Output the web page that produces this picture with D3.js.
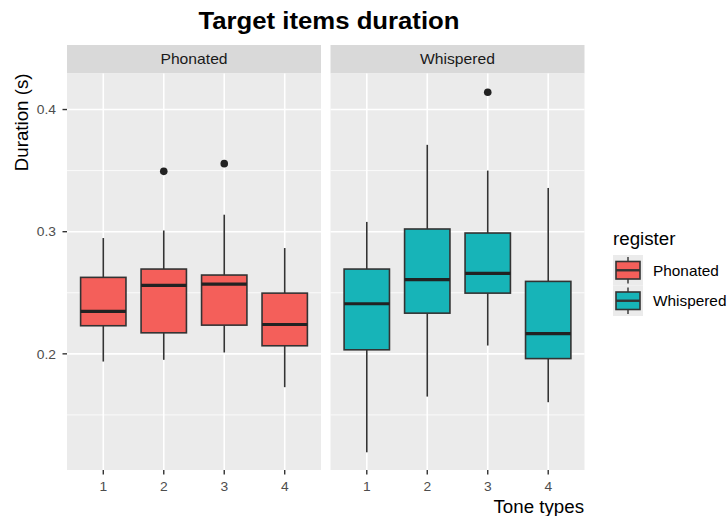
<!DOCTYPE html>
<html>
<head>
<meta charset="utf-8">
<script src="https://cdn.jsdelivr.net/npm/d3@7"></script>
<style>
  body { margin: 0; background: #fff; }
  svg { font-family: "Liberation Sans", Arial, sans-serif; }
</style>
</head>
<body>
<div id="chart"></div>
<script>
const toneTypes = ['1', '2', '3', '4'];
const registers = ['Phonated', 'Whispered'];
const colors = ['#F45F5A', '#17B4B8'];

// [lower whisker, Q1, median, Q3, upper whisker] per tone
const phonatedStats = [
  [0.1937, 0.2230, 0.2347, 0.2626, 0.2948],
  [0.1951, 0.2172, 0.2560, 0.2694, 0.3010],
  [0.2011, 0.2235, 0.2571, 0.2645, 0.3139],
  [0.1727, 0.2066, 0.2240, 0.2497, 0.2866]
];
const whisperedStats = [
  [0.1194, 0.2033, 0.2410, 0.2694, 0.3080],
  [0.1650, 0.2333, 0.2607, 0.3022, 0.3711],
  [0.2068, 0.2497, 0.2658, 0.2989, 0.3500],
  [0.1604, 0.1961, 0.2166, 0.2593, 0.3358]
];
const phonatedOutliers = [[], [0.3494], [0.3557], []];
const whisperedOutliers = [[], [], [0.4142], []];

const yTicks = [0.2, 0.3, 0.4];
const yMinor = [0.15, 0.25, 0.35];

const width = 728, height = 516;
const panels = [
  { name: registers[0], x0: 67, x1: 321, stats: phonatedStats, outliers: phonatedOutliers, color: colors[0] },
  { name: registers[1], x0: 330.5, x1: 584.5, stats: whisperedStats, outliers: whisperedOutliers, color: colors[1] }
];
const stripTop = 45, panelTop = 73.5, panelBottom = 470;

const svg = d3.select('#chart').append('svg')
  .attr('width', width)
  .attr('height', height);

const y = d3.scaleLinear()
  .domain([0.1049, 0.4295])
  .range([panelBottom, panelTop]);

// the reference font renders a little wider than Liberation Sans
const addText = (parent, str, x, yy, size, sx, opts = {}) => {
  const rot = opts.rotate ? ` rotate(${opts.rotate})` : '';
  return parent.append('text')
    .attr('transform', `translate(${x}, ${yy})${rot} scale(${sx}, 1)`)
    .attr('text-anchor', opts.anchor || 'start')
    .attr('font-size', size)
    .attr('font-weight', opts.bold ? 'bold' : 'normal')
    .attr('fill', opts.fill || '#000')
    .text(str);
};

addText(svg, 'Target items duration', 329, 29, 24.5, 1.05, { anchor: 'middle', bold: true });

panels.forEach(p => {
  // discrete scale with 0.6 unit expansion on each side
  const x = d3.scalePoint()
    .domain(toneTypes)
    .range([p.x0, p.x1])
    .padding(0.6);
  const unit = x.step();

  const g = svg.append('g');

  // strip
  g.append('rect')
    .attr('x', p.x0).attr('y', stripTop)
    .attr('width', p.x1 - p.x0).attr('height', panelTop - stripTop)
    .attr('fill', '#D9D9D9');
  addText(g, p.name, (p.x0 + p.x1) / 2, (stripTop + panelTop) / 2 + 5, 14.8, 1.06,
    { anchor: 'middle', fill: '#1A1A1A' });

  // panel background
  g.append('rect')
    .attr('x', p.x0).attr('y', panelTop)
    .attr('width', p.x1 - p.x0).attr('height', panelBottom - panelTop)
    .attr('fill', '#EBEBEB');

  g.selectAll('.minor').data(yMinor).enter().append('line')
    .attr('x1', p.x0).attr('x2', p.x1)
    .attr('y1', d => y(d)).attr('y2', d => y(d))
    .attr('stroke', '#fff').attr('stroke-width', 0.8);
  g.selectAll('.major').data(yTicks).enter().append('line')
    .attr('x1', p.x0).attr('x2', p.x1)
    .attr('y1', d => y(d)).attr('y2', d => y(d))
    .attr('stroke', '#fff').attr('stroke-width', 1.6);
  g.selectAll('.vmajor').data(toneTypes).enter().append('line')
    .attr('x1', d => x(d)).attr('x2', d => x(d))
    .attr('y1', panelTop).attr('y2', panelBottom)
    .attr('stroke', '#fff').attr('stroke-width', 1.6);

  // x axis ticks
  g.selectAll('.xtick').data(toneTypes).enter().append('line')
    .attr('x1', d => x(d)).attr('x2', d => x(d))
    .attr('y1', panelBottom).attr('y2', panelBottom + 4.5)
    .attr('stroke', '#333').attr('stroke-width', 1.4);
  toneTypes.forEach(t => addText(g, t, x(t), panelBottom + 21, 13.3, 1.04, { anchor: 'middle', fill: '#4D4D4D' }));

  const bw = unit * 0.75;
  const boxes = g.selectAll('.box').data(p.stats).enter().append('g');
  boxes.append('line')
    .attr('x1', (d, i) => x(toneTypes[i])).attr('x2', (d, i) => x(toneTypes[i]))
    .attr('y1', d => y(d[0])).attr('y2', d => y(d[1]))
    .attr('stroke', '#333').attr('stroke-width', 1.6);
  boxes.append('line')
    .attr('x1', (d, i) => x(toneTypes[i])).attr('x2', (d, i) => x(toneTypes[i]))
    .attr('y1', d => y(d[3])).attr('y2', d => y(d[4]))
    .attr('stroke', '#333').attr('stroke-width', 1.6);
  boxes.append('rect')
    .attr('x', (d, i) => x(toneTypes[i]) - bw / 2)
    .attr('width', bw)
    .attr('y', d => y(d[3]))
    .attr('height', d => y(d[1]) - y(d[3]))
    .attr('fill', p.color)
    .attr('stroke', '#333').attr('stroke-width', 1.6);
  boxes.append('line')
    .attr('x1', (d, i) => x(toneTypes[i]) - bw / 2).attr('x2', (d, i) => x(toneTypes[i]) + bw / 2)
    .attr('y1', d => y(d[2])).attr('y2', d => y(d[2]))
    .attr('stroke', '#222').attr('stroke-width', 3.2);

  p.outliers.forEach((arr, i) => {
    g.selectAll(null).data(arr).enter().append('circle')
      .attr('cx', x(toneTypes[i]))
      .attr('cy', d => y(d))
      .attr('r', 3.8)
      .attr('fill', '#222');
  });
});

// y axis
const yAxis = svg.append('g');
yAxis.selectAll('line').data(yTicks).enter().append('line')
  .attr('x1', 62.5).attr('x2', 67)
  .attr('y1', d => y(d)).attr('y2', d => y(d))
  .attr('stroke', '#333').attr('stroke-width', 1.4);
yTicks.forEach(t => addText(yAxis, d3.format('.1f')(t), 56, y(t) + 4.8, 13.3, 1.04, { anchor: 'end', fill: '#4D4D4D' }));

addText(svg, 'Duration (s)', 28, panelTop, 17.5, 1.07, { anchor: 'end', rotate: -90 });
addText(svg, 'Tone types', 584, 513, 17.5, 1.07, { anchor: 'end' });

// legend
const legend = svg.append('g');
addText(legend, 'register', 613, 245, 17.5, 1.07);

registers.forEach((r, i) => {
  const ky = 255 + i * 30.5;
  const kg = legend.append('g');
  kg.append('rect')
    .attr('x', 613).attr('y', ky)
    .attr('width', 30).attr('height', 30.5)
    .attr('fill', '#EBEBEB');
  kg.append('line')
    .attr('x1', 628).attr('x2', 628)
    .attr('y1', ky + 2).attr('y2', ky + 28.5)
    .attr('stroke', '#333').attr('stroke-width', 1.4);
  kg.append('rect')
    .attr('x', 616).attr('y', ky + 6.5)
    .attr('width', 24).attr('height', 17.5)
    .attr('fill', colors[i])
    .attr('stroke', '#333').attr('stroke-width', 1.6);
  kg.append('line')
    .attr('x1', 616).attr('x2', 640)
    .attr('y1', ky + 15.25).attr('y2', ky + 15.25)
    .attr('stroke', '#333').attr('stroke-width', 2.4);
  addText(kg, r, 653, ky + 20.8, 14.5, 1.06);
});
</script>
</body>
</html>
